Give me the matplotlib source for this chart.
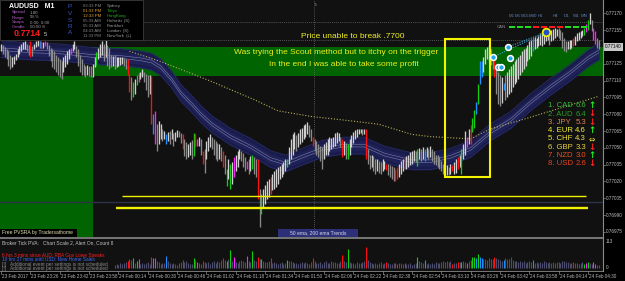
import matplotlib
matplotlib.use("Agg")
import matplotlib.pyplot as plt
from matplotlib.patches import Rectangle
import matplotlib.transforms as mtrans

plt.rcParams['font.family'] = ['Liberation Sans', 'DejaVu Sans']

W, H = 625, 281
BASE = 0.77      # prices below are points above 0.77000
PT = 1e-5        # one point = 0.00001

# ---------------- data ----------------
high_pts = [
    143,142,140,138,136,133,131,132,134,138,
    141,143,144,145,143,142,145,141,143,145,
    146,145,145,144,145,144,142,139,138,136,
    133,131,129,127,131,133,136,138,139,143,
    145,141,138,133,129,125,123,124,123,123,
    125,131,135,139,143,145,143,146,142,139,
    133,132,133,131,131,131,131,130,129,129,
    116,113,109,111,115,117,118,120,118,116,
    115,115,114,80,83,71,74,71,67,65,
    62,64,65,67,63,64,66,65,63,62,
    58,55,53,55,57,63,62,58,60,58,
    47,49,56,60,62,60,58,56,54,53,
    51,47,44,31,40,36,37,42,44,47,
    49,47,45,42,38,40,43,44,42,40,
    40,13,9,13,17,20,22,24,27,29,
    31,33,34,36,37,40,40,51,58,62,
    64,61,63,67,68,70,71,73,70,67,
    60,58,56,53,52,51,53,55,58,60,
    59,60,63,64,63,60,58,56,54,53,
    58,61,64,66,67,67,67,67,67,67,
    49,44,44,43,40,40,38,37,40,38,
    36,36,35,34,33,31,33,36,38,40,
    42,43,44,46,47,48,47,49,50,49,
    51,49,51,49,52,49,47,44,44,42,
    38,36,34,35,33,36,35,37,40,42,
    44,49,53,65,60,67,70,77,84,91,
    107,127,127,131,138,140,142,138,132,131,
    120,118,115,113,108,115,118,120,123,125,
    127,129,131,133,136,138,139,142,145,146,
    148,149,148,150,152,153,154,155,155,154,
    155,156,157,156,157,155,153,148,145,145,
    146,146,148,150,152,153,154,155,157,160,
    164,170,164,157,154,148,146]
low_pts = [
    136,134,131,129,123,120,122,125,128,131,
    134,136,138,138,136,133,131,132,138,140,
    141,139,138,139,141,138,132,127,122,120,
    118,115,113,111,118,122,125,129,134,136,
    138,131,123,118,115,115,113,115,114,113,
    113,122,124,129,131,133,127,131,123,120,
    122,123,120,122,123,124,125,123,120,115,
    100,93,95,98,106,109,111,113,109,102,
    95,98,71,62,53,47,53,58,56,58,
    53,56,53,58,52,56,60,60,54,49,
    43,40,42,44,40,43,51,52,52,44,
    36,28,40,47,51,49,44,40,38,40,
    38,33,27,16,22,13,18,24,29,33,
    40,38,33,29,31,27,29,31,27,24,
    4,-21,-9,-4,0,4,6,9,12,13,
    15,18,22,24,27,29,33,36,40,44,
    49,47,51,53,55,58,60,62,60,56,
    52,47,44,42,38,31,40,44,44,47,
    49,51,52,54,56,51,42,44,40,40,
    44,51,54,58,60,62,63,61,62,40,
    36,31,33,29,27,29,28,27,29,31,
    30,26,24,22,20,20,22,24,27,29,
    31,31,33,35,36,38,37,34,40,38,
    40,38,42,40,42,38,36,35,33,31,
    29,27,25,26,26,27,29,27,28,31,
    33,27,40,44,51,53,53,64,68,80,
    89,107,113,118,125,129,127,124,120,113,
    98,89,87,90,102,93,95,98,100,104,
    107,109,111,115,118,120,123,127,129,132,
    136,138,139,141,142,141,143,145,146,142,
    145,146,148,150,148,146,139,136,135,138,
    138,139,141,142,145,146,148,150,151,153,
    155,160,154,146,143,139,138]

# PVSRA colour class of special candles (index -> class)
pvsra_class = {16:'r',21:'b',22:'r',24:'m',38:'m',52:'g',69:'r',70:'r',72:'g',74:'g',
               75:'m',82:'r',83:'b',84:'m',90:'b',99:'r',105:'g',106:'r',107:'m',110:'r',
               121:'r',123:'g',125:'g',127:'m',134:'m',137:'g',140:'r',142:'g',147:'r',
               156:'g',170:'r',186:'r',189:'g',199:'r',210:'r',215:'r',216:'r',220:'r',
               227:'g',231:'b',246:'r',249:'r',251:'g',254:'m',256:'r',257:'g',258:'g',
               259:'b',260:'g',261:'b',262:'b',269:'r',274:'b',290:'b',312:'r',318:'g',
               319:'m',320:'g',323:'m',324:'m'}

vol_start = 62
volume = [14,18,12,20,16,22,25,28,36,34,
          42,20,30,38,18,22,15,20,24,18,
          46,40,42,30,25,18,22,20,50,28,
          20,16,22,18,14,20,24,35,26,30,
          22,18,16,42,34,26,20,18,30,24,
          20,24,18,26,30,22,28,25,32,40,
          35,28,38,75,30,46,26,22,28,32,
          28,24,50,30,26,70,34,30,45,36,
          38,30,26,24,28,40,22,25,20,18,
          20,24,18,22,34,28,30,26,22,20,
          18,22,24,20,26,22,18,24,40,28,
          22,20,26,18,24,30,20,22,28,24,
          26,22,20,30,54,28,26,80,24,22,
          20,18,24,22,20,26,30,88,34,24,
          20,18,22,16,20,24,18,22,26,20,
          18,16,20,20,17,22,20,16,21,18,
          16,20,14,18,22,46,28,24,20,33,
          18,20,16,22,18,24,20,22,26,28,
          24,30,26,28,17,22,20,25,26,25,
          30,24,21,28,33,44,48,40,58,46,
          42,38,36,34,40,36,38,46,42,36,
          34,30,33,40,38,36,46,32,30,28,
          26,30,24,28,22,26,30,24,33,22,
          24,20,26,22,28,24,20,26,22,24,
          20,24,26,22,30,28,24,26,22,20,
          25,20,22,18,20,24,17,21,25,20,
          18,25,16,14,12]

ribbon_idx = [0,16,33,49,65,76,82,87,93,98,104,109,115,125,136,147,155,164,175,187,
              198,209,224,234,245,256,267,278,289,300,311,320,326]
ribbon_pts = [138,136,135,132,131,129,127,122,111,99,89,80,71,60,51,40,36,42,49,52,
              52,44,38,38,42,49,64,75,91,105,118,130,136]

ema200_idx = [70,76,87,98,115,125,138,151,169,191,206,224,234,256,267,284,302,316,326]
ema200_pts = [136,133,127,120,109,102,93,83,78,74,71,62,60,58,67,75,84,91,96]

# drawn objects
green_zones = [(-1, 50.2, 0.76960, 0.771140), (50.2, 329.0, 0.771140, 0.771403)]
yellow_box = (242.1, 266.6, 0.770240, 0.771474)
yellow_lines = [(66.0, 319.0, 0.770070, 1.0), (62.7, 320.0, 0.769965, 1.7)]
grey_level = 0.770020
dotted_levels = [0.771620, 0.771460]
session_idx = 170.7
scout_idx = [268.3, 271.0, 272.6, 276.4, 277.5]
scout_pts = [131, 122, 122, 140, 130]
target_idx, target_pts = 297.2, 153

price_ticks = [0.77170, 0.77155, 0.77140, 0.77125, 0.77110, 0.77095, 0.77080,
               0.77065, 0.77050, 0.77035, 0.77020, 0.77005, 0.76990, 0.76975]
current_price = 0.77140
time_idx = [0,16,32,48,64,80,96,112,128,144,160,176,192,208,224,240,256,272,288,304,320]
time_labels = ['23 Feb 2017','23 Feb 23:26','23 Feb 23:42','23 Feb 23:58','24 Feb 00:14',
               '24 Feb 00:30','24 Feb 00:46','24 Feb 01:02','24 Feb 01:18','24 Feb 01:34',
               '24 Feb 01:50','24 Feb 02:06','24 Feb 02:22','24 Feb 02:38','24 Feb 02:54',
               '24 Feb 03:10','24 Feb 03:26','24 Feb 03:42','24 Feb 03:58','24 Feb 04:14',
               '24 Feb 04:30']

currencies = ['CAD','AUD','JPY','EUR','CHF','GBP','NZD','USD']
strength = [6.6, 6.4, 5.3, 4.6, 4.3, 3.3, 3.0, 2.6]
trend = ['up','down','down','up','flat','down','up','down']
timeframes = ['M1','M5','M15','M30','H1','H4','D1','W1','MN']
can_state = ['g','g','g','r','r','r','r','g','g','g']

sessions = ['Sydney','Tokyo','HongKong','Helsinki  (S)','Frankfurt','London  (S)','NewYork  (L)']
session_times = ['03:33 PM','01:33 PM','12:33 PM','05:33 AM','05:33 AM','04:33 AM','11:33 PM']
session_open = [False, True, True, False, False, False, False]

# ---------------- styling ----------------
COL = {'r':'#ff1010','g':'#10d010','b':'#2090ff','m':'#ff20ff'}
BG = '#111111'

fig = plt.figure(figsize=(W/100, H/100), dpi=100, facecolor='#000000')
ylo, yhi = 0.769705, 0.771818
xlo, xhi = -0.55, 328.2

ax = fig.add_axes([0, 1-237/H, 603/W, 237/H])
ax.set_facecolor(BG)
ax.set_xlim(xlo, xhi); ax.set_ylim(ylo, yhi)
ax.set_autoscale_on(False)
ax.axis('off')
ax.add_patch(Rectangle((0,0),1,1,transform=ax.transAxes,color=BG,zorder=0))

for x0, x1, p0, p1 in green_zones:
    ax.add_patch(Rectangle((x0, p0), x1-x0, p1-p0, color='#006400', lw=0, zorder=1))

ax.axhline(grey_level, color='#2c3346', lw=1.0, zorder=2)
for lv in dotted_levels:
    ax.plot([78, xhi], [lv, lv], color='#6a6a6a', lw=0.6, ls=(0,(1,1.5)), zorder=2)
ax.axvline(session_idx, color='#6a6a6a', lw=0.6, ls=(0,(1,1.5)), zorder=2)

# ribbon (50 / 200 ema trends)
c = [BASE + p*PT for p in ribbon_pts]
ax.fill_between(ribbon_idx, [v-7.5*PT for v in c], [v+7.5*PT for v in c],
                color='#191b4a', lw=0, zorder=3)
ax.fill_between(ribbon_idx, [v-4.5*PT for v in c], [v+4.5*PT for v in c],
                color='#1f2258', lw=0, zorder=3)
for off in (-7.5, 7.5):
    ax.plot(ribbon_idx, [v+off*PT for v in c], color='#282c6c', lw=0.6, zorder=3)
for off in (-1.2, 1.2):
    ax.plot(ribbon_idx, [v+off*PT for v in c], color='#7c7ea8', lw=0.4, zorder=3)

ax.plot(ema200_idx, [BASE+p*PT for p in ema200_pts], color='#b8b058', lw=0.8,
        ls=(0,(1,1.6)), zorder=3)

# candles
idx = list(range(len(high_pts)))
cols = []
for i in idx:
    if i in pvsra_class:
        cols.append(COL[pvsra_class[i]])
    else:
        mid = high_pts[i] + low_pts[i]
        prev = high_pts[i-1] + low_pts[i-1] if i > 0 else mid
        cols.append('#cfcfcf' if mid >= prev else '#8a8a8a')
ax.vlines(idx, [BASE+p*PT for p in low_pts], [BASE+p*PT for p in high_pts],
          colors=cols, lw=0.95, zorder=5)

# yellow marks
bx0, bx1, bp0, bp1 = yellow_box
ax.add_patch(Rectangle((bx0, bp0), bx1-bx0, bp1-bp0, fill=False, ec='#f4f400', lw=1.5, zorder=6))
for x0, x1, p, w in yellow_lines:
    ax.plot([x0, x1], [p, p], color='#f0f000', lw=w, zorder=6, solid_capstyle='butt')

# scout dots
for xi, pi in zip([scout_idx[0], scout_idx[3]], [scout_pts[0], scout_pts[3]]):
    ax.plot([xi, target_idx], [BASE+pi*PT, BASE+target_pts*PT], color='#3aa0d0',
            lw=0.8, ls=(0,(1,1.2)), zorder=6)
ax.plot(scout_idx, [BASE+p*PT for p in scout_pts], 'o', ms=4.2, mfc='#20a8e8',
        mec='white', mew=1.1, zorder=7, ls='none')
ax.plot([target_idx], [BASE+target_pts*PT], 'o', ms=5.5, mfc='#2050d0', mec='#f0f000',
        mew=1.3, zorder=7)

# ---------------- volume panel ----------------
axv = fig.add_axes([0, 1-271/H, 603/W, 33/H])
axv.set_facecolor(BG)
axv.set_xlim(xlo, xhi); axv.set_ylim(-12.6, 125.6)
axv.set_autoscale_on(False)
axv.axis('off')
axv.add_patch(Rectangle((0,0),1,1,transform=axv.transAxes,color=BG,zorder=0))
vidx = list(range(vol_start, vol_start+len(volume)))
vcols = [COL[pvsra_class[i]] if i in pvsra_class else '#4c4c6c' for i in vidx]
axv.vlines(vidx, 0, volume, colors=vcols, lw=0.8, zorder=3)

# ---------------- overlay (layout in pixels) ----------------
ov = fig.add_axes([0, 0, 1, 1], zorder=10)
ov.set_xlim(0, W); ov.set_ylim(H, 0); ov.axis('off'); ov.patch.set_alpha(0)
ov.set_autoscale_on(False)

def t(x, y, s, **kw):
    kw.setdefault('va', 'center'); kw.setdefault('ha', 'left')
    kw.setdefault('fontsize', 3.5); kw.setdefault('color', '#b0b0b0')
    return ov.text(x, y, s, **kw)

# frame lines
ov.plot([603, 603], [0, 271], color='#8a8a8a', lw=0.8)
ov.plot([0, 603], [237.5, 237.5], color='#8a8a8a', lw=1.2)
ov.plot([0, 603], [271, 271], color='#8a8a8a', lw=0.6)

# right price axis
bt = mtrans.blended_transform_factory(ov.transData, ax.transData)
for p in price_ticks:
    ax.plot([603, 605], [p, p], transform=bt, color='#8a8a8a', lw=0.5, clip_on=False)
    ax.text(606, p, f'{p:.5f}', transform=bt, fontsize=3.3, color='#c0c0c0',
            va='center', ha='left', clip_on=False, zorder=12)
ax.text(605, current_price, f'{current_price:.5f}', transform=bt, fontsize=3.3,
        color='#000000', va='center', ha='left', clip_on=False, zorder=13,
        bbox=dict(boxstyle='square,pad=0.25', fc='#c8c8c8', ec='none'))
bv = mtrans.blended_transform_factory(ov.transData, axv.transData)
axv.text(606, 113, '113', transform=bv, fontsize=3.3, color='#c0c0c0', va='center', clip_on=False)
axv.text(606, 0, '0', transform=bv, fontsize=3.3, color='#c0c0c0', va='center', clip_on=False)

# time axis
bx = mtrans.blended_transform_factory(axv.transData, ov.transData)
for i, lab in zip(time_idx, time_labels):
    axv.plot([i, i], [271, 273.5], transform=bx, color='#8a8a8a', lw=0.5, clip_on=False)
    axv.text(i + 0.5, 276, lab, transform=bx, fontsize=3.3, color='#b8b8b8',
             va='center', ha='left', clip_on=False)

# info panel
ov.add_patch(Rectangle((0, 0), 143, 40, fc='#000000', ec='#3c3c3c', lw=0.6))
t(9, 6, 'AUDUSD   M1', color='white', fontsize=5.0, fontweight='bold')
for k, (lab, val) in enumerate(zip(['Spread', 'Range', 'Swaps', 'Candle'],
                                   ['1.80', '59.%', '0.00, 0.00', '00:00 S'])):
    t(12, 12.5 + 5*k, lab, color='#b060c0', fontsize=3.2)
    t(30, 12.5 + 5*k, val, color='#a0a0a0', fontsize=3.2)
t(14, 34, '0.7714', color='#ff1a1a', fontsize=6.4, fontweight='bold')
t(44, 35, '5', color='#d0d0d0', fontsize=4.2)
for k, ch in enumerate('PVSRA'):
    t(70, 7 + 6.5*k, ch, color='#3a58d0', fontsize=4.6, ha='center')
for k, (tm, nm, op) in enumerate(zip(session_times, sessions, session_open)):
    y = 5.7 + 5.05*k
    t(83, y, tm, color='#e0a030' if op else '#8a8a8a', fontsize=3.1)
    t(107, y, nm, color='#20b020' if op else '#9a9a9a', fontsize=3.1)
t(313.5, 5, 'Tc', color='#8a8a8a', fontsize=3.1)

# annotations
Y = '#f0f020'
t(353, 36.5, 'Price unable to break .7700', color=Y, fontsize=6.0, ha='center')
t(336.5, 52, 'Was trying the Scout method but to itchy on the trigger', color=Y, fontsize=6.0, ha='center')
t(343.5, 64, 'In the end I was able to take some profit', color=Y, fontsize=6.0, ha='center')

# timeframe trend panel
tf_x = [509, 515, 521, 528.5, 538, 553, 564, 573, 581]
for x, tf in zip(tf_x, timeframes):
    t(x, 16, tf, color='#5a80b8', fontsize=3.2)
t(497, 27, 'CAN', color='#8a8a8a', fontsize=3.2)
for k, s in enumerate(can_state):
    x0 = 509 + 8*k
    ov.plot([x0, x0+5.5], [27, 27], color='#20e020' if s == 'g' else '#ff1a1a',
            lw=1.4, solid_capstyle='butt')

# currency strength
ccol = ['#34b834', '#2a9a2a', '#e08050', '#f0f030', '#f0e040', '#e8d040', '#e85020', '#e84020']
for k, (cur, st, tr) in enumerate(zip(currencies, strength, trend)):
    y = 105.7 + 8.3*k
    t(548, y, f'{k+1}. {cur}', color=ccol[k], fontsize=5.6)
    t(586, y, f'{st:.1f}', color=ccol[k], fontsize=5.6, ha='right')
    if tr == 'up':
        t(592, y, '\u2191', color='#20f020', fontsize=6.2, fontweight='bold', ha='center',
          family='DejaVu Sans')
    elif tr == 'down':
        t(592, y, '\u2193', color='#ff2020', fontsize=6.2, fontweight='bold', ha='center',
          family='DejaVu Sans')
    else:
        t(592, y, '\u21d4', color='#e8e040', fontsize=5.5, ha='center', family='DejaVu Sans')

# bottom labels of main chart
ov.add_patch(Rectangle((0, 228.5), 77, 8, fc='#000000', ec='none'))
t(2, 232.5, 'Free PVSRA by Tradersathome', color='#e0e0b0', fontsize=3.6)
ov.add_patch(Rectangle((278, 228.5), 80, 8, fc='#2c3078', ec='none'))
t(318, 232.5, '50 ema, 200 ema Trends', color='#d8d8e8', fontsize=3.6, ha='center')

# volume panel texts
t(2, 242.5, 'Broker Tick PVA:   Chart Scale 2, Alert On, Count 8', color='#c0c0c0', fontsize=3.5)
t(2, 255.5, '6 hrs 3 mins since AUD: RBA Gov Lowe Speaks', color='#ff2020', fontsize=3.4)
t(2, 259.8, '10 hrs 27 mins until USD: New Home Sales', color='#3a6aff', fontsize=3.4)
t(2, 264.2, '[!]   Additional event per settings is not scheduled', color='#8a8a8a', fontsize=3.4)
t(2, 268.4, '[!]   Additional event per settings is not scheduled', color='#8a8a8a', fontsize=3.4)

fig.savefig('out.png', dpi=100, facecolor='#000000')
